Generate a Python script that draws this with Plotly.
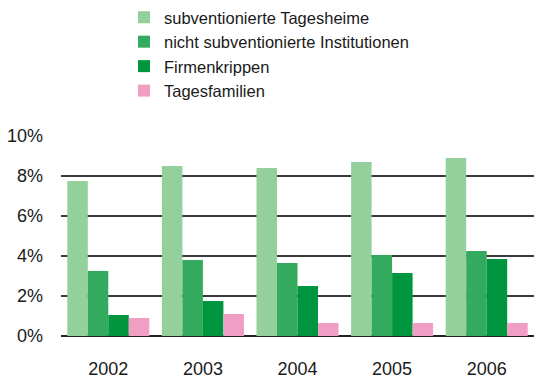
import plotly.graph_objects as go

years = ["2002", "2003", "2004", "2005", "2006"]
series_names = [
    "subventionierte Tagesheime",
    "nicht subventionierte Institutionen",
    "Firmenkrippen",
    "Tagesfamilien",
]
subventionierte = [7.75, 8.5, 8.4, 8.7, 8.9]
nicht_subventionierte = [3.25, 3.8, 3.65, 4.05, 4.25]
firmenkrippen = [1.05, 1.75, 2.5, 3.15, 3.85]
tagesfamilien = [0.9, 1.1, 0.65, 0.65, 0.65]
y_ticks = [0, 2, 4, 6, 8, 10]
y_tick_labels = ["0%", "2%", "4%", "6%", "8%", "10%"]

colors = ["#94d09c", "#33aa5e", "#00963f", "#f09ec3"]
values = [subventionierte, nicht_subventionierte, firmenkrippen, tagesfamilien]

fig = go.Figure()
for name, vals, col in zip(series_names, values, colors):
    fig.add_trace(go.Bar(x=years, y=vals, name=name, marker_color=col,
                         marker_line_width=0, legendgroup=name))

font_family = "Liberation Sans, Arial, sans-serif"
fig.update_layout(
    width=535, height=378,
    margin=dict(l=61, r=1, t=136, b=42, autoexpand=False),
    paper_bgcolor="white", plot_bgcolor="white",
    barmode="group", bargap=0.133, bargroupgap=0,
    font=dict(family=font_family, size=18, color="#1a1a1a"),
    showlegend=True,
    legend=dict(
        xref="container", yref="container",
        x=124 / 535, y=1.0, xanchor="left", yanchor="top",
        font=dict(size=16.5, color="#1a1a1a"),
        traceorder="grouped", tracegroupgap=0,
        itemwidth=30, bgcolor="rgba(0,0,0,0)",
    ),
    xaxis=dict(showgrid=False, ticks="outside", ticklen=16, tickwidth=1,
               tickcolor="white", showline=False, tickangle=0,
               tickfont=dict(size=18), automargin=False),
    yaxis=dict(range=[0, 10], tickvals=y_ticks, ticktext=y_tick_labels,
               showgrid=True, gridcolor="#3a3a3a", gridwidth=1.5,
               zeroline=True, zerolinecolor="#222", zerolinewidth=2,
               ticks="", ticklabelstandoff=17, tickfont=dict(size=18),
               automargin=False),
)

fig.write_html("out.html")
